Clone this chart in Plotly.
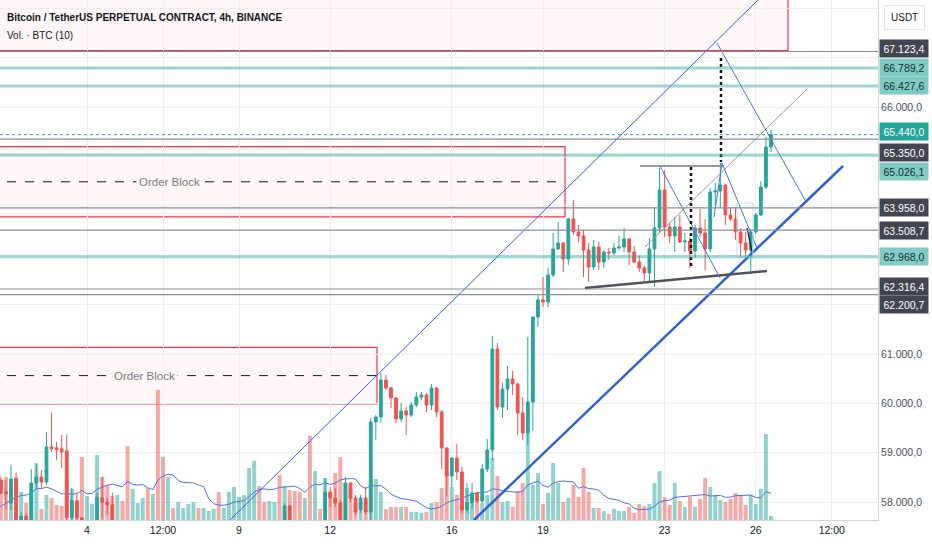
import pandas as pd
import plotly.graph_objects as go

# BTCUSDT perpetual, 4h bars. The first 9 bars sit left of the visible window,
# they are only there so the volume MA starts with some history.
bar_start = '2024-08-30 16:00'

opens = [
    59300, 59200, 59100, 59250, 59150, 59000, 59050, 58950, 58800,
    58450, 58210, 57985, 58470, 57450,                # Sep 1
    57720, 57400, 58390, 58510, 58410, 59120,         # Sep 2
    59100, 59080, 59040, 57690, 58030, 57680,         # Sep 3
    56800, 57100, 57300, 58090, 58000, 57950,         # Sep 4
    57500, 57560, 56900, 56050, 56300, 56450,         # Sep 5
    56600, 56150, 56500, 54500, 53700, 54200,         # Sep 6
    53900, 54100, 54250, 54300, 54450, 54200,         # Sep 7
    54350, 54450, 54600, 54100, 54400, 54900,         # Sep 8
    55300, 55600, 56200, 56800, 57200, 56900,         # Sep 9
    56700, 56900, 57100, 56700, 57924, 57300,         # Sep 10
    57050, 56700, 57000, 55800, 57200, 57000,         # Sep 11
    58207, 58086, 57985, 57500, 58389, 58086,         # Sep 12
    57850, 58086, 57802, 59624, 59725, 60474,         # Sep 13
    60312, 60110, 59685, 59847, 59766, 59968,         # Sep 14
    60130, 60171, 59968, 60312, 59826, 59098,         # Sep 15
    58531, 58895, 58612, 57843, 57990, 58187,         # Sep 16
    58025, 58673, 59057, 61102, 59928, 60292,         # Sep 17
    60495, 60393, 59806, 59401, 60029, 61750,         # Sep 18
    62094, 62053, 62600, 63126, 63247, 62923,         # Sep 19
    63733, 63470, 63389, 63106, 62762, 63166,         # Sep 20
    62863, 63065, 63045, 63146, 63166, 63328,         # Sep 21
    63065, 62863, 62741, 62640, 63126, 63551,         # Sep 22
    64320, 63571, 63389, 63571, 63268, 63288,         # Sep 23
    63085, 63551, 63450, 63126, 64280, 64300,         # Sep 24
    64421, 63814, 63733, 63470, 63247, 63106,         # Sep 25
    63470, 63814, 64381, 65190,                       # Sep 26
]
highs = [
    59450, 59350, 59300, 59400, 59250, 59150, 59200, 59100, 58900,
    58520, 58450, 58760, 58600, 57800,
    57780, 58670, 58760, 58650, 59420, 59810,
    59220, 59360, 59360, 58290, 58190, 57700,
    57300, 57500, 58190, 58510, 58080, 58190,
    57600, 57600, 57000, 56500, 56700, 56900,
    56800, 56700, 56900, 54900, 54500, 54400,
    54300, 54400, 54500, 54600, 54500, 54400,
    54500, 54700, 54650, 54500, 55000, 55400,
    55700, 56300, 56900, 57300, 57400, 57000,
    57000, 57200, 57200, 57980, 57950, 57400,
    57200, 57100, 57100, 57300, 57400, 58490,
    58308, 58288, 58050, 58512, 58410, 58146,
    58146, 58308, 59705, 59766, 60616, 60576,
    60332, 60130, 60009, 59928, 60029, 60232,
    60232, 60211, 60393, 60330, 59867, 59118,
    58915, 59179, 58714, 58389, 58389, 58207,
    58774, 59280, 61365, 61223, 60413, 60758,
    60657, 60413, 60130, 61345, 61750, 62200,
    62559, 62741, 63450, 63672, 63268, 63750,
    64118, 63612, 63510, 63247, 63308, 63268,
    63106, 63146, 63247, 63389, 63551, 63348,
    63186, 62984, 62782, 63348, 63976, 64765,
    64725, 63652, 63774, 63814, 63450, 63369,
    63612, 63935, 63733, 64360, 64462, 64867,
    64440, 63956, 63976, 63551, 63470, 63530,
    63855, 64501, 65400, 65534,
]
lows = [
    59100, 59000, 58950, 59100, 58900, 58850, 58900, 58700, 58350,
    58150, 57850, 57840, 57300, 57200,
    57250, 57300, 58290, 58290, 58350, 59020,
    58860, 58690, 57600, 57500, 57300, 56600,
    56500, 56900, 57100, 57680, 57750, 57300,
    57200, 56800, 55700, 55800, 56100, 56300,
    56100, 56000, 54000, 53300, 53600, 53800,
    53800, 54000, 54100, 54200, 54100, 54100,
    54200, 54300, 53900, 54000, 54300, 54800,
    55200, 55500, 56100, 56700, 56800, 56500,
    56600, 56800, 56600, 56600, 57100, 56900,
    56600, 56500, 55500, 55700, 56900, 56900,
    57904, 57904, 57300, 57300, 58000, 57742,
    57782, 57742, 57600, 59260, 59604, 60272,
    59908, 59604, 59624, 59361, 59725, 59928,
    60069, 59826, 59867, 59725, 58673, 58126,
    58308, 58450, 57782, 57782, 57880, 57985,
    57985, 58612, 58855, 59867, 59705, 59867,
    60171, 59361, 59260, 59159, 59442, 61547,
    61950, 61950, 62559, 63106, 62660, 62800,
    63409, 63268, 62559, 62458, 62700, 62701,
    62741, 62903, 63000, 63106, 63065, 62803,
    62842, 62660, 62458, 62458, 62357, 63450,
    63369, 63247, 63065, 63247, 63065, 62741,
    62944, 63369, 62701, 63065, 64016, 63956,
    63612, 63700, 63308, 62964, 62944, 62620,
    63430, 63794, 64340, 65089,
]
closes = [
    59200, 59100, 59250, 59150, 59000, 59050, 58950, 58800, 58450,
    58190, 58170, 58470, 57450, 57720,
    57400, 58390, 58510, 58410, 59120, 59080,
    59060, 59020, 57690, 58030, 57680, 56800,
    57100, 57300, 58100, 58000, 57950, 57500,
    57560, 56900, 56050, 56300, 56450, 56600,
    56150, 56500, 54500, 53700, 54200, 53900,
    54100, 54250, 54300, 54450, 54200, 54350,
    54450, 54600, 54100, 54400, 54900, 55300,
    55600, 56200, 56800, 57200, 56900, 56700,
    56900, 57100, 56700, 57924, 57300, 57050,
    56700, 57000, 55800, 57200, 57000, 58207,
    58086, 57985, 57500, 58389, 58086, 57802,
    58086, 57802, 59624, 59725, 60474, 60312,
    60110, 59685, 59847, 59766, 59968, 60130,
    60171, 59968, 60312, 59826, 59098, 58531,
    58895, 58612, 57843, 57990, 58187, 58025,
    58673, 59057, 61102, 59928, 60292, 60495,
    60393, 59806, 59401, 60029, 61750, 62094,
    62053, 62600, 63126, 63247, 62923, 63733,
    63470, 63389, 63106, 62762, 63166, 62863,
    63065, 63045, 63146, 63166, 63328, 63065,
    62863, 62741, 62640, 63126, 63551, 64320,
    63571, 63389, 63571, 63268, 63288, 63085,
    63551, 63450, 63126, 64280, 64300, 64421,
    63814, 63733, 63470, 63247, 63106, 63470,
    63814, 64381, 65190, 65440,
]
volumes = [
    4800, 4000, 4400, 3600, 5200, 4000, 4800, 4400, 4000,
    16000, 17200, 14000, 17200, 11200,
    6800, 12000, 22800, 4400, 10000, 8800,
    6000, 5600, 16000, 12400, 6800, 25200,
    9600, 6400, 26000, 17200, 14000, 9600,
    10000, 7600, 29600, 12400, 6800, 8800,
    12800, 10400, 52000, 25200, 17200, 4800,
    7200, 4800, 6400, 7200, 4800, 4800,
    3600, 4400, 11200, 4800, 11200, 13200,
    9200, 10000, 20800, 23600, 13600, 7200,
    7600, 7200, 18000, 13600, 12000, 11600,
    11200, 8800, 33600, 19600, 4400, 16800,
    10400, 18800, 25200, 14800, 13600, 6800,
    6800, 8000, 16000, 16400, 11200, 4400,
    5200, 5200, 5200, 5200, 3200, 3200,
    2800, 3200, 6800, 7200, 12800, 19200,
    13200, 10000, 8000, 12800, 10000, 9600,
    6800, 10000, 24800, 17600, 7200, 7600,
    5200, 11600, 14800, 34800, 14000, 18800,
    6400, 10800, 22800, 14800, 7200, 8800,
    14000, 9200, 20800, 11200, 4800, 4800,
    3600, 2400, 4400, 3600, 3600, 5200,
    2800, 6400, 5600, 6400, 14800, 19600,
    9200, 6000, 14800, 7600, 5200, 9200,
    5200, 8400, 16800, 13200, 10000, 8000,
    7200, 8400, 10800, 9600, 6000, 10000,
    6400, 12400, 34400, 1600,
]

# horizontal levels drawn on the chart
level_prices = [67123.4, 66789.2, 66427.6, 65440.0, 65350.0, 65026.1,
                63958.0, 63508.7, 62968.0, 62316.4, 62200.7]
level_kinds = ['gray', 'teal', 'teal', 'last', 'gray', 'teal',
               'gray', 'gray', 'teal', 'gray', 'gray']
label_shifts = [3, 1, 0, 3, -13, -16, 0, 0, 0, 2, -10]

# order blocks: right edge, bottom, top, label position
ob_right = ['2024-09-27 01:25', '2024-09-19 17:22', '2024-09-13 12:56']
ob_low = [67140, 63774, 59989]
ob_high = [69000, 65198, 61136]
ob_label_x = [None, '2024-09-06 17:31', '2024-09-05 21:47']

# trend line drawings (start time, start price, end time, end price)
channel_top = ['2024-09-08 16:54', 57640, '2024-09-26 01:44', 68166]
channel_bottom = ['2024-09-16 17:31', 57640, '2024-09-28 20:50', 64806]
channel_mid = ['2024-09-22 08:31', 63166, '2024-09-27 16:25', 66364]
triangle_base = ['2024-09-20 09:10', 62337, '2024-09-26 08:50', 62681]
triangle_top = ['2024-09-22 04:35', 64806, '2024-09-24 22:06', 64806]
zigzag_1 = ['2024-09-22 20:22', 64806, '2024-09-24 19:44', 62539]
zigzag_2 = [['2024-09-24 15:00', '2024-09-24 21:19', '2024-09-26 00:56'], [63774, 64867, 63146]]
target_leg = ['2024-09-24 17:22', 67295, '2024-09-27 14:50', 64118]
wedge_leg = ['2024-09-25 17:04', 63551, '2024-09-25 21:00', 63065]
dotted_1 = ['2024-09-23 20:50', 64786, 62741]
dotted_2 = ['2024-09-24 20:31', 66992, 64887]
small_box = ['2024-09-25 09:10', '2024-09-25 21:47', 62964, 64057]

x_ticks = ['2024-09-04', '2024-09-06 12:00', '2024-09-09', '2024-09-12', '2024-09-16',
           '2024-09-19', '2024-09-23', '2024-09-26', '2024-09-28 12:00']
x_tick_text = ['4', '12:00', '9', '12', '16', '19', '23', '26', '12:00']
x_range = ['2024-09-01 03:19', '2024-09-30 00:28']
price_range = [57640, 68166]
grid_prices = list(range(58000, 68001, 1000))
shown_prices = [58000, 59000, 60000, 61000, 66000]

FONT = 'Liberation Sans, Arial, sans-serif'
GREEN = '#26a69a'
RED = '#ef5350'
TEAL_LINE = 'rgba(38,166,154,0.45)'
GRAY_LINE = '#8a8d96'
BLUE = '#2962ff'


def tv_price(p):
    # 67,123.4 -> 67.123,4
    return f'{p:,.1f}'.replace(',', '#').replace('.', ',').replace('#', '.')


times = pd.date_range(bar_start, periods=len(opens), freq='4h')

fig = go.Figure()

# volume histogram + MA on the hidden base axis (so candles stay on top)
vol_colors = ['rgba(38,166,154,0.5)' if c >= o else 'rgba(239,83,80,0.5)'
              for o, c in zip(opens, closes)]
fig.add_trace(go.Bar(x=times, y=volumes, width=4 * 3600 * 1000 * 0.78,
                     marker=dict(color=vol_colors, line=dict(width=0)),
                     yaxis='y', hoverinfo='skip'))
vol_ma = pd.Series(volumes).rolling(10, min_periods=1).mean()
fig.add_trace(go.Scatter(x=times, y=vol_ma, mode='lines',
                         line=dict(color='#4a72e8', width=1), yaxis='y', hoverinfo='skip'))

fig.add_trace(go.Candlestick(
    x=times, open=opens, high=highs, low=lows, close=closes, yaxis='y2',
    increasing=dict(line=dict(color=GREEN, width=1), fillcolor=GREEN),
    decreasing=dict(line=dict(color=RED, width=1), fillcolor=RED),
    whiskerwidth=0, hoverinfo='skip'))


def add_line(seg, color, width, dash='solid'):
    fig.add_trace(go.Scatter(x=[seg[0], seg[2]], y=[seg[1], seg[3]], mode='lines',
                             line=dict(color=color, width=width, dash=dash),
                             yaxis='y2', hoverinfo='skip'))


add_line(channel_top, BLUE, 1)
add_line(channel_bottom, '#2f5fd8', 2.5)
add_line(channel_mid, '#9598a1', 1)
add_line(triangle_base, '#50535e', 2.5)
add_line(triangle_top, '#9598a1', 2)
add_line(zigzag_1, '#4a72e8', 1)
add_line(target_leg, '#4a72e8', 1)
add_line(wedge_leg, '#131722', 1.2)
fig.add_trace(go.Scatter(x=zigzag_2[0], y=zigzag_2[1], mode='lines',
                         line=dict(color='#4a72e8', width=1), yaxis='y2', hoverinfo='skip'))
for d in (dotted_1, dotted_2):
    fig.add_trace(go.Scatter(x=[d[0], d[0]], y=[d[1], d[2]], mode='lines',
                             line=dict(color='#131722', width=2.5, dash='dot'),
                             yaxis='y2', hoverinfo='skip'))

shapes = []
annotations = []

# order block boxes
for right, lo, hi, lab in zip(ob_right, ob_low, ob_high, ob_label_x):
    shapes.append(dict(type='rect', xref='x', yref='y2', x0='2024-08-30', x1=right,
                       y0=lo, y1=hi, fillcolor='rgba(242,54,69,0.045)',
                       line=dict(color='#f23645', width=1.2), layer='below'))
    if lab:
        mid = (lo + hi) / 2
        shapes.append(dict(type='line', xref='x', yref='y2', x0='2024-08-30', x1=right,
                           y0=mid, y1=mid, line=dict(color='#131722', width=1, dash='dash')))
        annotations.append(dict(x=lab, y=mid, xref='x', yref='y2', text='Order Block',
                                showarrow=False, bgcolor='#fef5f5', borderpad=2,
                                font=dict(size=11.5, color='#787b86')))

shapes.append(dict(type='rect', xref='x', yref='y2', x0=small_box[0], x1=small_box[1],
                   y0=small_box[2], y1=small_box[3], line=dict(color='#b9e3dc', width=1)))

# horizontal levels + their price labels
label_style = {
    'gray': ('#434651', 'white'),
    'teal': ('#80cbc4', '#13322e'),
    'last': ('#26a69a', 'white'),
}
for p, kind, shift in zip(level_prices, level_kinds, label_shifts):
    if kind == 'teal':
        line = dict(color=TEAL_LINE, width=3)
    elif kind == 'last':
        line = dict(color=GREEN, width=1, dash='dot')
    else:
        line = dict(color=GRAY_LINE, width=1.2)
    shapes.append(dict(type='line', xref='paper', yref='y2', x0=0, x1=1, y0=p, y1=p, line=line))
    bg, fg = label_style[kind]
    annotations.append(dict(x=1, y=p, xref='paper', yref='y2', xanchor='left', yshift=shift,
                            xshift=1, text=tv_price(p), showarrow=False, bgcolor=bg,
                            width=44, height=13, borderpad=2,
                            font=dict(size=10.5, color=fg)))

# header texts
annotations.append(dict(x=0, y=1, xref='paper', yref='paper', xanchor='left', yanchor='top',
                        xshift=5, yshift=-10, showarrow=False,
                        text='<b>Bitcoin / TetherUS PERPETUAL CONTRACT, 4h, BINANCE</b>',
                        font=dict(size=10, color='#131722')))
annotations.append(dict(x=0, y=1, xref='paper', yref='paper', xanchor='left', yanchor='top',
                        xshift=5, yshift=-28, showarrow=False, text='Vol. · BTC (10)',
                        font=dict(size=10, color='#131722')))
annotations.append(dict(x=1, y=1, xref='paper', yref='paper', xanchor='left', yanchor='top',
                        xshift=6, yshift=-5, showarrow=False, text='USDT',
                        bordercolor='#e0e3eb', borderwidth=1, borderpad=6,
                        font=dict(size=10, color='#131722')))

fig.update_layout(
    width=932, height=550,
    margin=dict(l=0, r=54, t=0, b=30, autoexpand=False),
    paper_bgcolor='white', plot_bgcolor='white',
    font=dict(family=FONT, size=10, color='#131722'),
    showlegend=False,
    boxgap=0.22,
    shapes=shapes,
    annotations=annotations,
    xaxis=dict(type='date', range=x_range, rangeslider=dict(visible=False),
               tickvals=x_ticks, ticktext=x_tick_text, ticks='', automargin=False,
               showgrid=True, gridcolor='#eceef2', showline=True, linecolor='#d1d4dc',
               zeroline=False, tickfont=dict(size=10.5, color='#131722')),
    yaxis=dict(range=[0, 208000], visible=False, fixedrange=True, automargin=False),
    yaxis2=dict(overlaying='y', side='right', range=price_range, automargin=False,
                tickvals=grid_prices,
                ticktext=[tv_price(p) if p in shown_prices else '' for p in grid_prices],
                ticks='', showgrid=True, gridcolor='#eceef2', showline=True,
                linecolor='#d1d4dc', zeroline=False,
                tickfont=dict(size=10.5, color='#4c525e')),
)

# the page body has a default 8px margin; drop it so the chart sits at the window corner
fig.write_html('out.html', config={'displayModeBar': False},
               post_script="document.body.style.margin='0';")
